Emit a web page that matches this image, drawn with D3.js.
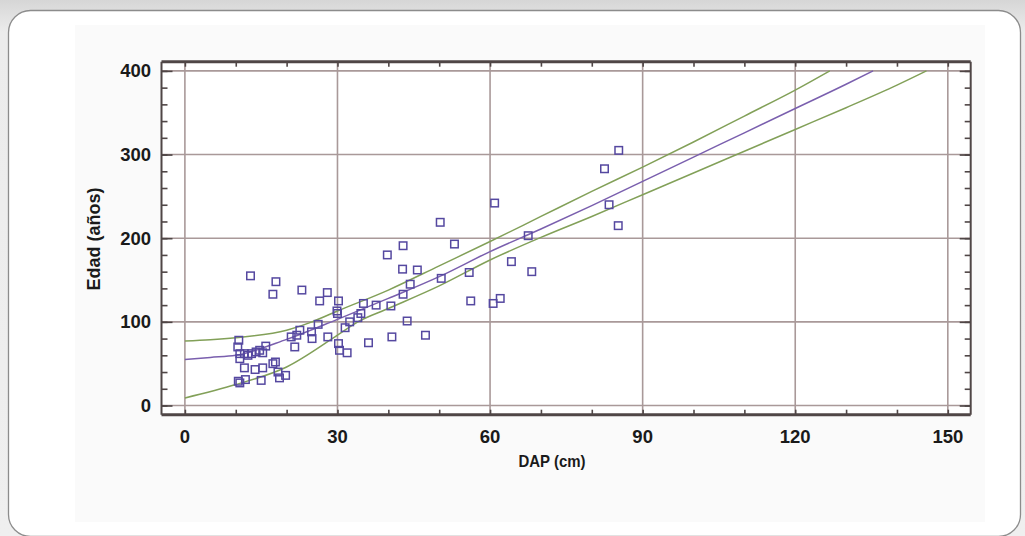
<!DOCTYPE html>
<html>
<head>
<meta charset="utf-8">
<script src="https://cdn.jsdelivr.net/npm/d3@7"></script>
<style>
  html, body { margin: 0; padding: 0; background: #e4e4e4; }
  svg { display: block; }
  text { font-family: "Liberation Sans", Arial, sans-serif; font-weight: bold; fill: #1a1a1a; }
</style>
</head>
<body>
<svg id="chart" width="1025" height="536"></svg>
<script>
// Observations: DAP (cm) and Edad (años)
const dap = [
  10.6, 10.4, 10.8, 10.8, 11.7, 12.4, 13.1, 14.0, 14.7, 15.3, 15.9, 11.7, 13.8, 15.3, 17.3, 17.8,
  18.3, 18.6, 19.8, 15.0, 10.5, 10.8, 11.9, 12.9, 17.9, 17.3,
  20.9, 21.6, 22.0, 22.6, 23.0, 24.9, 25.0, 26.2, 26.5, 28.0, 28.1, 29.9, 30.0, 30.2, 30.2, 30.4,
  31.9, 31.5, 32.4, 34.0, 34.6, 35.1, 36.1, 37.6, 39.8, 40.5, 40.7,
  42.9, 42.8, 45.7, 44.3, 42.9, 43.7, 47.3, 50.2, 50.4, 53.0, 55.9, 56.2, 60.6, 62.0, 60.9, 64.2,
  67.5, 68.2, 82.5, 83.4, 85.3, 85.2
];
const edad = [
  78, 70, 62, 56, 62, 60, 62, 64, 66, 63, 71, 45, 43, 45, 50, 52,
  40, 33, 36, 30, 29, 27, 31, 155, 148, 133,
  82, 70, 84, 90, 138, 88, 80, 97, 125, 135, 82, 113, 110, 125, 74, 66,
  63, 93, 100, 105, 110, 122, 75, 120, 180, 119, 82,
  191, 163, 162, 145, 133, 101, 84, 219, 152, 193, 159, 125, 122, 128, 242, 172,
  203, 160, 283, 240, 305, 215
];

// Fitted curve and its confidence limits, read at these DAP values
const fitDap   = [0, 5, 10, 20, 30, 40, 50, 60, 70, 80, 90, 100, 110, 120, 130, 135.3];
const fitEdad  = [55, 57.5, 60, 79, 103, 128, 154, 184, 211, 239, 268, 297, 326, 355, 384, 400];
const upperDap  = [0, 5, 10, 20, 25, 30, 40, 50, 60, 70, 80, 90, 100, 110, 120, 126.8];
const upperEdad = [77, 78.5, 81, 90, 100, 113, 138, 167, 196, 226, 256, 285, 315, 346, 377, 400];
const lowerDap  = [0, 10, 20, 30, 34, 40, 50, 60, 70, 80, 90, 100, 110, 120, 130, 140, 145.8];
const lowerEdad = [9, 25, 46, 84, 100, 116, 143, 174, 201, 226, 252, 278, 304, 330, 356, 383, 400];

const xTicks = [0, 30, 60, 90, 120, 150];
const yTicks = [0, 100, 200, 300, 400];

const svg = d3.select("#chart");

// page backdrop and card
const defs = svg.append("defs");
const bg = defs.append("linearGradient").attr("id", "bg").attr("x1", 0).attr("y1", 0).attr("x2", 0).attr("y2", 1);
bg.append("stop").attr("offset", 0).attr("stop-color", "#d6d6d6");
bg.append("stop").attr("offset", 0.06).attr("stop-color", "#ececec");
bg.append("stop").attr("offset", 1).attr("stop-color", "#efefef");
svg.append("rect").attr("width", 1025).attr("height", 536).attr("fill", "url(#bg)");
svg.append("rect").attr("x", 8.5).attr("y", 10.5).attr("width", 1012).attr("height", 526)
  .attr("rx", 22).attr("fill", "#ffffff").attr("stroke", "#8c8c8c").attr("stroke-width", 1.3);
svg.append("rect").attr("x", 75).attr("y", 25).attr("width", 910).attr("height", 497).attr("fill", "#fafafa");

const x = d3.scaleLinear().domain([-4.6, 154.5]).range([161.5, 970.7]);
const y = d3.scaleLinear().domain([-11, 411]).range([414.7, 61.7]);
const [x0, x1] = x.range();
const [y0, y1] = y.range();

const plot = svg.append("g");
plot.append("rect").attr("x", x0).attr("y", y1).attr("width", x1 - x0).attr("height", y0 - y1).attr("fill", "#ffffff");

// grid
const gridColor = "#a99999";
plot.selectAll("line.gx").data(xTicks).join("line")
  .attr("x1", d => x(d)).attr("x2", d => x(d)).attr("y1", y1).attr("y2", y0)
  .attr("stroke", gridColor).attr("stroke-width", 1.6);
plot.selectAll("line.gy").data(yTicks).join("line")
  .attr("x1", x0).attr("x2", x1).attr("y1", d => y(d)).attr("y2", d => y(d))
  .attr("stroke", gridColor).attr("stroke-width", 1.6);

// axes with inward ticks on all four sides
const frameColor = "#4f4646";
const xMinor = d3.range(0, 151, 10);
const yMinor = d3.range(0, 401, 20);
const axB = d3.axisBottom(x).tickValues(xMinor).tickSize(-5).tickFormat("");
const axT = d3.axisTop(x).tickValues(xMinor).tickSize(-5).tickFormat("");
const axL = d3.axisLeft(y).tickValues(yMinor).tickSize(-6).tickFormat("");
const axR = d3.axisRight(y).tickValues(yMinor).tickSize(-6).tickFormat("");
function styleAxis(g) {
  g.select(".domain").remove();
  g.selectAll(".tick line").attr("stroke", frameColor).attr("stroke-width", 1.6);
}
svg.append("g").attr("transform", `translate(0,${y0})`).call(axB).call(styleAxis);
svg.append("g").attr("transform", `translate(0,${y1})`).call(axT).call(styleAxis);
svg.append("g").attr("transform", `translate(${x0},0)`).call(axL).call(styleAxis);
svg.append("g").attr("transform", `translate(${x1},0)`).call(axR).call(styleAxis);
// longer marks at labelled values on the vertical sides
svg.append("g").attr("transform", `translate(${x0},0)`)
  .call(d3.axisLeft(y).tickValues(yTicks).tickSize(-11).tickFormat("")).call(styleAxis);
svg.append("g").attr("transform", `translate(${x1},0)`)
  .call(d3.axisRight(y).tickValues(yTicks).tickSize(-11).tickFormat("")).call(styleAxis);

// curves
const lineGen = d3.line().x(d => x(d[0])).y(d => y(d[1])).curve(d3.curveMonotoneX);
const bands = [
  { xs: upperDap, ys: upperEdad, color: "#82a058" },
  { xs: lowerDap, ys: lowerEdad, color: "#82a058" },
  { xs: fitDap, ys: fitEdad, color: "#7a5fae" }
];
bands.forEach(b => {
  plot.append("path").datum(d3.zip(b.xs, b.ys)).attr("d", lineGen)
    .attr("fill", "none").attr("stroke", b.color).attr("stroke-width", 1.5);
});

// observations
const s = 7.5;
plot.selectAll("rect.pt").data(d3.zip(dap, edad)).join("rect")
  .attr("class", "pt")
  .attr("x", d => x(d[0]) - s / 2).attr("y", d => y(d[1]) - s / 2)
  .attr("width", s).attr("height", s)
  .attr("fill", "none").attr("stroke", "#5548a0").attr("stroke-width", 1.5);

// frame
svg.append("line").attr("x1", x0).attr("x2", x1).attr("y1", y1).attr("y2", y1).attr("stroke", frameColor).attr("stroke-width", 3);
svg.append("line").attr("x1", x0).attr("x2", x1).attr("y1", y0).attr("y2", y0).attr("stroke", frameColor).attr("stroke-width", 3);
svg.append("line").attr("x1", x0).attr("x2", x0).attr("y1", y1).attr("y2", y0).attr("stroke", frameColor).attr("stroke-width", 2);
svg.append("line").attr("x1", x1).attr("x2", x1).attr("y1", y1).attr("y2", y0).attr("stroke", frameColor).attr("stroke-width", 2);

// tick labels
svg.selectAll("text.xl").data(xTicks).join("text")
  .attr("x", d => x(d)).attr("y", 443).attr("text-anchor", "middle")
  .attr("font-size", 18.5).text(d => d);
svg.selectAll("text.yl").data(yTicks).join("text")
  .attr("x", 151).attr("y", d => y(d) + 6.5).attr("text-anchor", "end")
  .attr("font-size", 18.5).text(d => d);

// axis titles
svg.append("text").attr("transform", "translate(552,467) scale(1,1.15)").attr("text-anchor", "middle")
  .attr("font-size", 15).text("DAP (cm)");
svg.append("text").attr("transform", "translate(100,239) rotate(-90)").attr("text-anchor", "middle")
  .attr("font-size", 18).text("Edad (años)");
</script>
</body>
</html>
